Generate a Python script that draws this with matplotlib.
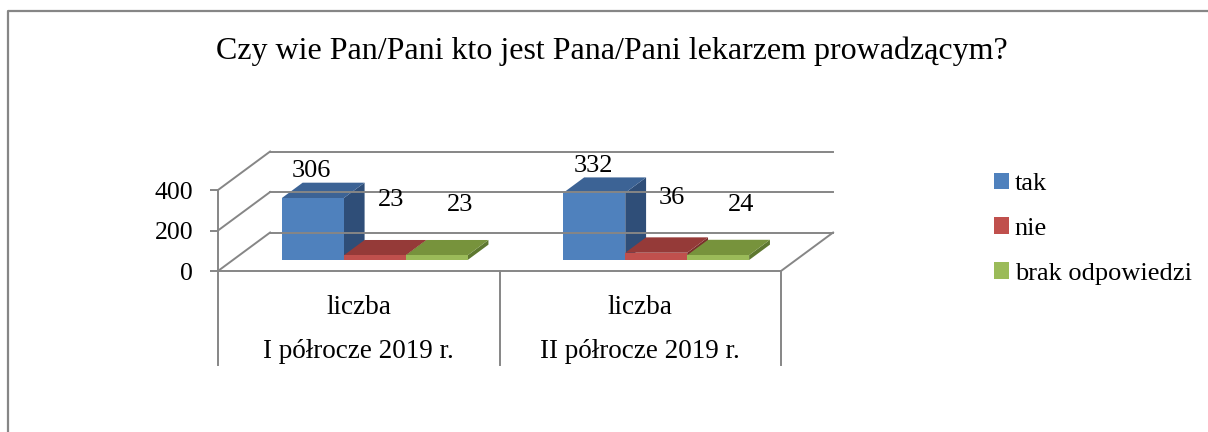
import matplotlib
import matplotlib.pyplot as plt
from matplotlib.patches import Polygon, Patch
from matplotlib.lines import Line2D

matplotlib.use("Agg")
plt.rcParams["font.family"] = ["Liberation Serif", "DejaVu Serif"]

# dane z wykresu
title = "Czy wie Pan/Pani kto jest Pana/Pani lekarzem prowadzącym?"
periods = ["I półrocze 2019 r.", "II półrocze 2019 r."]
sub_labels = ["liczba", "liczba"]
series = ["tak", "nie", "brak odpowiedzi"]
tak = [306, 332]
nie = [23, 36]
brak = [23, 24]
y_ticks = [0, 200, 400]

# kolory: przód, góra, bok
colors = {
    "tak": ("#4F81BD", "#3C6395", "#2F4E78"),
    "nie": ("#C0504D", "#953A38", "#7A2E2C"),
    "brak odpowiedzi": ("#9BBB59", "#77933C", "#5E7830"),
}
label_off = {"tak": (-1, 27), "nie": (16, 55), "brak odpowiedzi": (23, 50)}
grid_c = "#868686"

# pseudo-3D: przesunięcie głębokości w jednostkach danych
DX = 0.185
DY = 190
GAP = 0.174
BW = 0.22
D0 = 0.285
D1 = D0 + 0.4


def proj(x, v, d):
    return (x + d * DX, v + d * DY)


fig = plt.figure(figsize=(12.08, 4.32), dpi=100)
ax = fig.add_axes([218 / 1208, 161 / 432, 563 / 1208, 81 / 432])
ax.set_xlim(0, 2)
ax.set_ylim(0, 400)
ax.patch.set_visible(False)
for s in ["top", "right", "bottom"]:
    ax.spines[s].set_visible(False)
ax.spines["left"].set_color(grid_c)
ax.spines["left"].set_linewidth(1.4)
ax.spines["left"].set_bounds(0, 400)
ax.set_xticks([])
ax.set_yticks(y_ticks)
ax.tick_params(axis="y", direction="out", length=5.8, width=1.4, color=grid_c,
               labelsize=18.5, pad=12)

lw = 1.4
# ściana tylna i boczna
for v in y_ticks:
    xs, ys = zip(proj(0, v, 1), proj(2, v, 1))
    ax.plot(xs, ys, color=grid_c, lw=lw, clip_on=False)
    xs, ys = zip(proj(0, v, 0), proj(0, v, 1))
    ax.plot(xs, ys, color=grid_c, lw=lw, clip_on=False)
# podłoga
xs, ys = zip(proj(0, 0, 0), proj(2, 0, 0), proj(2, 0, 1))
ax.plot(xs, ys, color=grid_c, lw=lw, clip_on=False)
# linie pod osią kategorii
for x in [0, 1, 2]:
    ax.plot([x, x], [0, -464], color=grid_c, lw=lw, clip_on=False)

for i in range(len(periods)):
    for j, (name, vals) in enumerate(zip(series, [tak, nie, brak])):
        v = vals[i]
        x0 = i + GAP + j * BW
        x1 = x0 + BW
        front, top, side = colors[name]
        ax.add_patch(Polygon([proj(x1, 0, D0), proj(x1, 0, D1), proj(x1, v, D1), proj(x1, v, D0)],
                             closed=True, fc=side, ec="none", clip_on=False))
        ax.add_patch(Polygon([proj(x0, v, D0), proj(x1, v, D0), proj(x1, v, D1), proj(x0, v, D1)],
                             closed=True, fc=top, ec="none", clip_on=False))
        ax.add_patch(Polygon([proj(x0, 0, D0), proj(x1, 0, D0), proj(x1, v, D0), proj(x0, v, D0)],
                             closed=True, fc=front, ec="none", clip_on=False))
        ox, oy = label_off[name]
        ax.annotate(str(v), xy=proj((x0 + x1) / 2, v, D0), xytext=(ox, oy),
                    textcoords="offset pixels", ha="center", va="center",
                    fontsize=19, annotation_clip=False)
    ax.annotate(sub_labels[i], xy=(i + 0.5, 0), xytext=(0, -37), textcoords="offset pixels",
                ha="center", va="center", fontsize=19.5, annotation_clip=False)
    ax.annotate(periods[i], xy=(i + 0.5, 0), xytext=(0, -80), textcoords="offset pixels",
                ha="center", va="center", fontsize=19.5, annotation_clip=False)

handles = [Patch(facecolor=colors[s][0], edgecolor="none") for s in series]
fig.legend(handles, series, loc="upper left", bbox_to_anchor=(983 / 1208, 1 - 162 / 432),
           frameon=False, fontsize=19, handlelength=0.6, handleheight=0.6,
           handletextpad=0.2, labelspacing=0.84, borderaxespad=0)

fig.text(612 / 1208, 1 - 59 / 432, title, ha="center", va="baseline", fontsize=23)

# ramka
fig.add_artist(Line2D([8 / 1208, 8 / 1208, 1.0], [0, 1 - 11 / 432, 1 - 11 / 432],
                      transform=fig.transFigure, color=grid_c, lw=1.6))

fig.savefig("out.png", dpi=100)
